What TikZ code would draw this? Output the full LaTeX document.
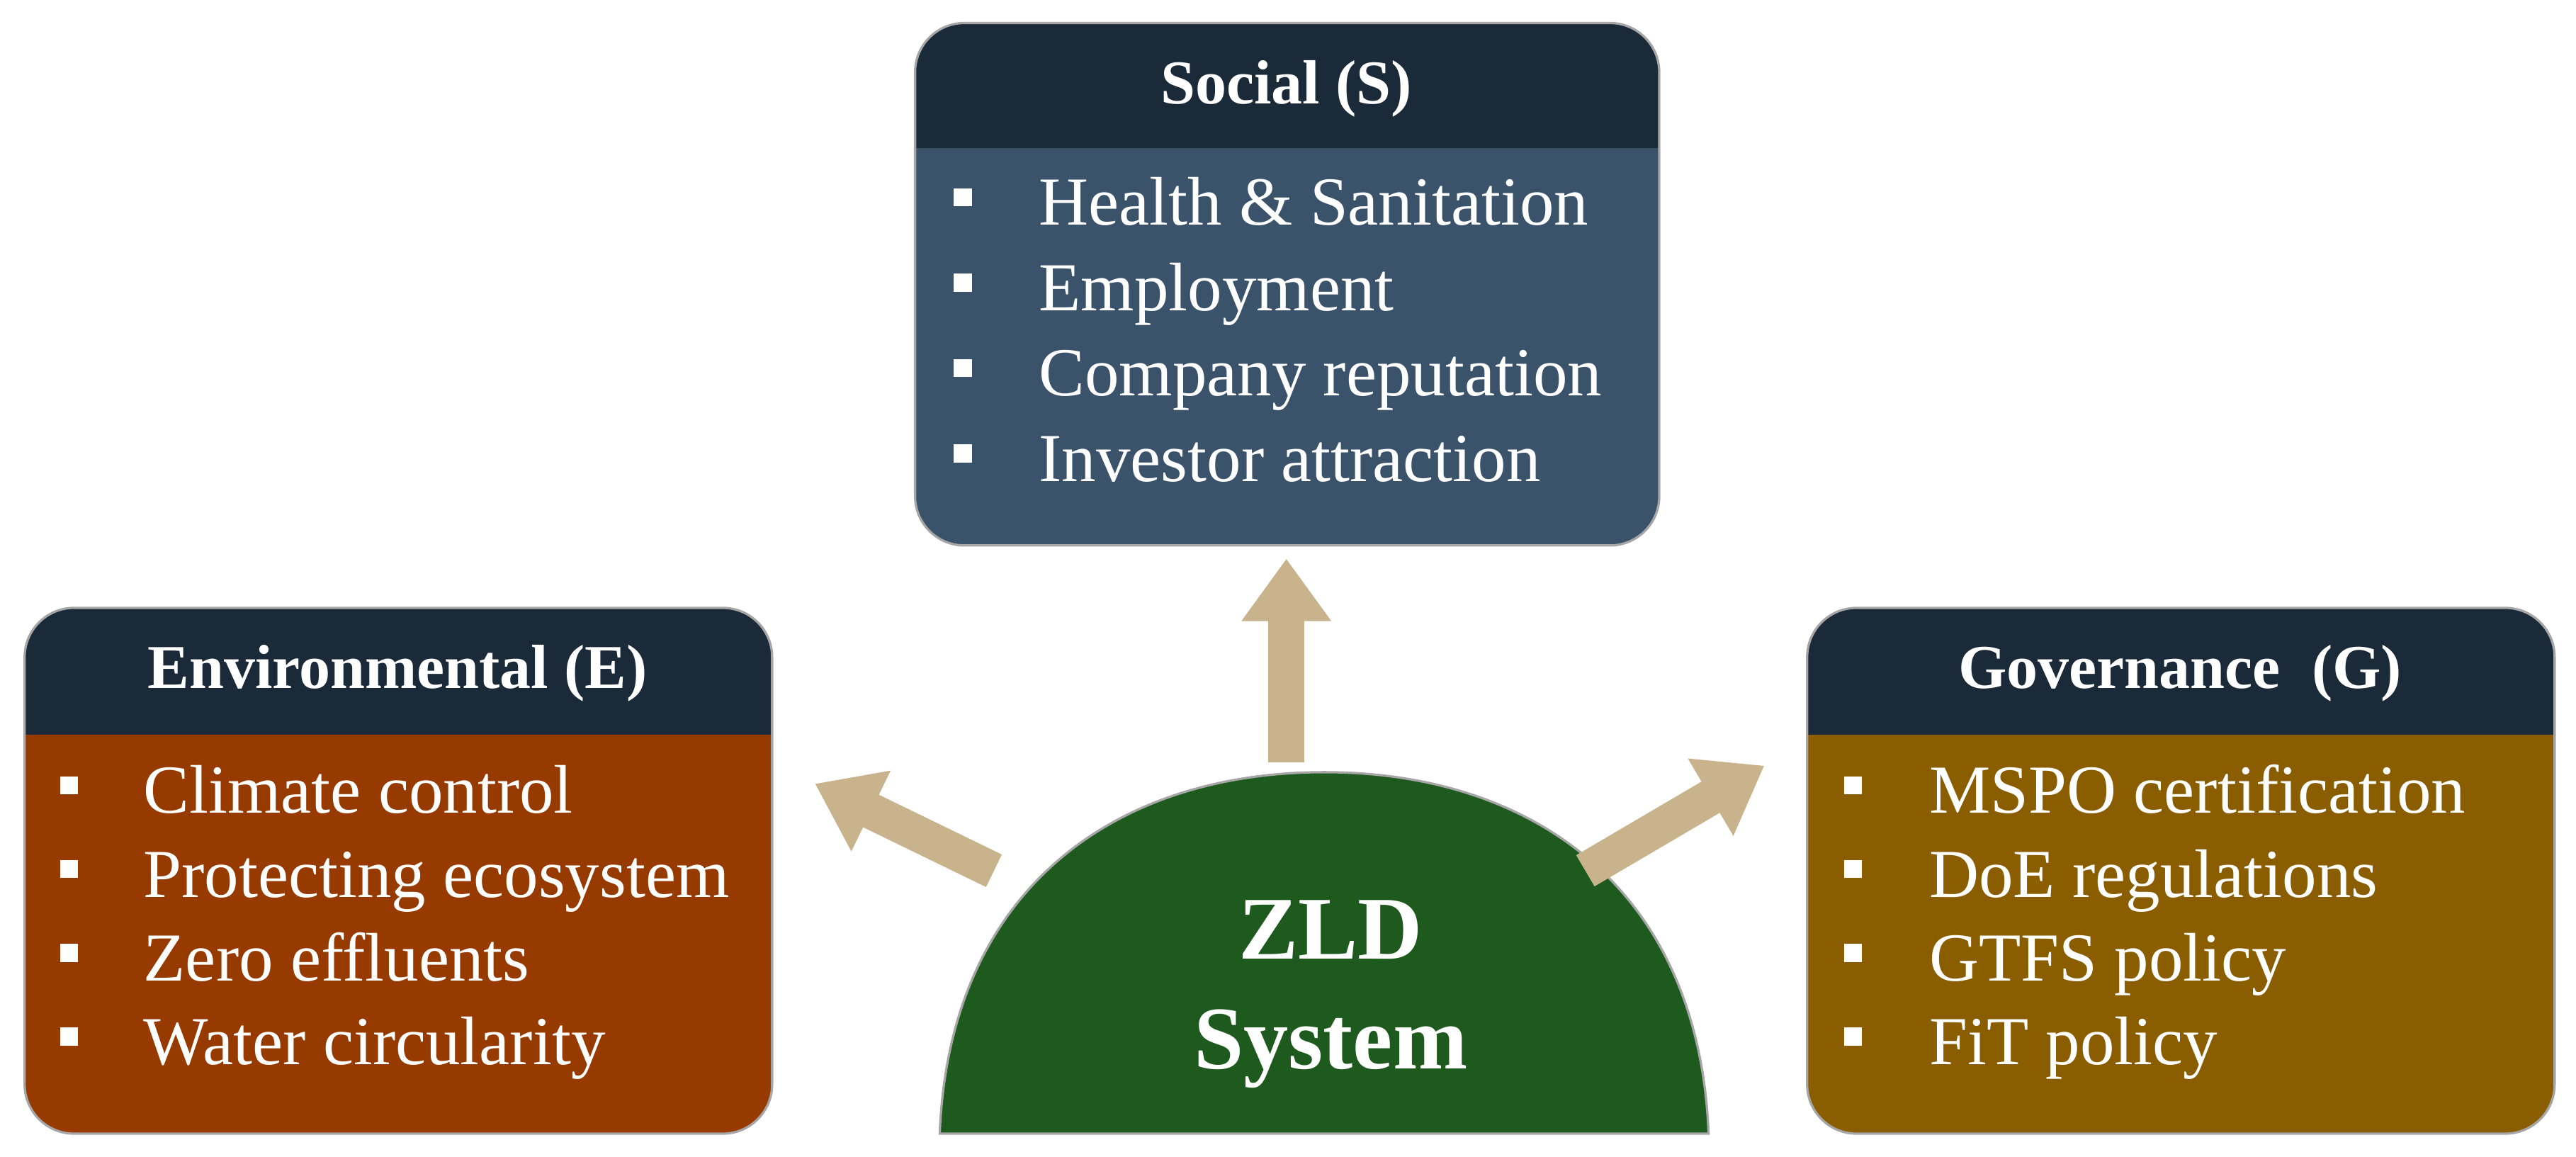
\documentclass[tikz,border=0pt]{standalone}
\usepackage{fontspec}
\setmainfont{Liberation Serif}
\usetikzlibrary{arrows.meta}
\definecolor{hdr}{HTML}{1B2A38}
\definecolor{soc}{HTML}{3A536B}
\definecolor{env}{HTML}{963A00}
\definecolor{gov}{HTML}{8A5E00}
\definecolor{dome}{HTML}{1E5A1E}
\definecolor{arr}{HTML}{C9B38C}
\tikzset{
 hd/.style={text=white,font=\bfseries\fontsize{10.8}{12}\selectfont},
 it/.style={text=white,anchor=base west,font=\fontsize{11.9}{13}\selectfont},
 bul/.style={fill=white,minimum size=1.1mm,inner sep=0pt},
 fat/.style={draw=arr,line width=2.2mm,-{Triangle[length=3.8mm,width=5.2mm]}},
 edge/.style={draw=gray!70,line width=0.4pt}
}
\begin{document}
\begin{tikzpicture}[x=0.1mm,y=-0.1mm]
\useasboundingbox (0,0) rectangle (1568,704);
\newcommand{\ebox}[6]{%
 \fill[#6,rounded corners=3mm] (#1,#2) rectangle (#3,#4);
 \begin{scope}
 \clip[rounded corners=3mm] (#1,#2) rectangle (#3,#4);
 \fill[hdr] (#1,#2) rectangle (#3,#5);
 \end{scope}
 \draw[edge,rounded corners=3mm] (#1,#2) rectangle (#3,#4);}
\ebox{557}{14}{1010}{332}{90}{soc}
\ebox{15}{370}{470}{690}{447}{env}
\ebox{1100}{370}{1555}{690}{447}{gov}
\node[hd] (sh) at (783,54) {Social (S)};
\node[hd] (eh) at (242,410) {Environmental (E)};
\node[hd] (gh) at (1327,410) {Governance~~(G)};
\foreach \t [count=\i] in {Health \& Sanitation,Employment,Company reputation,Investor attraction}{
 \node[bul] (sb\i) at (586,68+52*\i) {};
 \node[it] (s\i) at (620,85+52*\i) {\t};}
\foreach \t [count=\i] in {Climate control,Protecting ecosystem,Zero effluents,Water circularity}{
 \node[bul] (eb\i) at (42,427+51*\i) {};
 \node[it] (e\i) at (75,444+51*\i) {\t};}
\foreach \t [count=\i] in {MSPO certification,DoE regulations,GTFS policy,FiT policy}{
 \node[bul] (gb\i) at (1128,427+51*\i) {};
 \node[it] (g\i) at (1162,444+51*\i) {\t};}
\fill[dome] (572,690) .. controls (578,540) and (680,470) .. (806,470) .. controls (932,470) and (1034,540) .. (1040,690) -- cycle;
\draw[edge] (572,690) .. controls (578,540) and (680,470) .. (806,470) .. controls (932,470) and (1034,540) .. (1040,690) -- cycle;
\node[text=white,font=\bfseries\fontsize{15.5}{19}\selectfont,align=center] (zld) at (810,605) {ZLD\\System};
\coordinate (a1) at (783,464); \coordinate (a2) at (783,340);
\coordinate (b1) at (605,530); \coordinate (b2) at (496,477);
\coordinate (c1) at (965,530); \coordinate (c2) at (1074,466);
\draw[fat] (a1) -- (a2);
\draw[fat] (b1) -- (b2);
\draw[fat] (c1) -- (c2);
\end{tikzpicture}
\end{document}
